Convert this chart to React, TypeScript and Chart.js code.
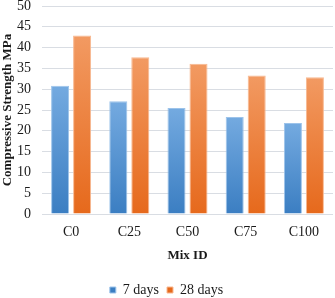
import React, { useEffect, useRef } from "react";
import { Chart, registerables } from "chart.js";

Chart.register(...registerables);

const categories = ["C0", "C25", "C50", "C75", "C100"];
const days7 = [30.8, 27.1, 25.5, 23.3, 21.9];
const days28 = [42.9, 37.7, 36.1, 33.3, 32.9];
const seriesNames = ["7 days", "28 days"];
const yTitle = "Compressive Strength MPa";
const xTitle = "Mix ID";

const FONT = "'Liberation Serif', 'Times New Roman', serif";
const TEXT = "#1a1a1a";

function barGradient(ctx: any, top: string, bottom: string) {
  const chart = ctx.chart;
  const ys = chart.scales && chart.scales.y;
  if (!chart.chartArea || !ys || ctx.raw == null) return bottom;
  const y0 = ys.getPixelForValue(ctx.raw);
  const y1 = ys.getPixelForValue(0);
  if (!isFinite(y0) || !isFinite(y1) || y0 === y1) return bottom;
  const g = chart.ctx.createLinearGradient(0, y0, 0, y1);
  g.addColorStop(0, top);
  g.addColorStop(1, bottom);
  return g;
}

export default function App() {
  const ref = useRef<HTMLCanvasElement | null>(null);
  useEffect(() => {
    document.body.style.margin = "0";
    const chart = new Chart(ref.current!, {
      type: "bar",
      data: {
        labels: categories,
        datasets: [
          {
            label: seriesNames[0],
            data: days7,
            backgroundColor: (c: any) => barGradient(c, "#74aae0", "#3b7ec2"),
            borderColor: "#9cc3ea",
            borderWidth: 1,
            categoryPercentage: 0.756,
            barPercentage: 0.82,
          },
          {
            label: seriesNames[1],
            data: days28,
            backgroundColor: (c: any) => barGradient(c, "#f29a62", "#e6691c"),
            borderColor: "#f8b890",
            borderWidth: 1,
            categoryPercentage: 0.756,
            barPercentage: 0.82,
          },
        ],
      },
      options: {
        animation: false,
        responsive: false,
        maintainAspectRatio: false,
        layout: { padding: { left: 0, right: 2, top: 0, bottom: -9 } },
        plugins: {
          tooltip: { enabled: false },
          legend: {
            position: "bottom",
            labels: {
              boxWidth: 6,
              boxHeight: 6,
              color: TEXT,
              font: { family: FONT, size: 14 },
              padding: 8,
            },
          },
        },
        scales: {
          x: {
            afterFit: (s: any) => {
              s.height = 61;
            },
            grid: { display: false, drawTicks: false },
            border: { display: false },
            ticks: { color: TEXT, font: { family: FONT, size: 14 }, padding: 10 },
            title: {
              display: true,
              text: xTitle,
              color: TEXT,
              font: { family: FONT, size: 13, weight: "bold" },
              padding: { top: 4, bottom: 12 },
            },
          },
          y: {
            min: 0,
            max: 50,
            afterFit: (s: any) => {
              s.width = 42;
              s.paddingTop = 6;
            },
            ticks: {
              stepSize: 5,
              autoSkip: false,
              color: TEXT,
              font: { family: FONT, size: 14 },
              padding: 11,
            },
            grid: { color: "#d9dde3", drawTicks: false },
            border: { display: false },
            title: {
              display: true,
              text: yTitle,
              color: TEXT,
              font: { family: FONT, size: 13, weight: "bold" },
              padding: { top: 0, bottom: 0 },
            },
          },
        },
      },
    });
    return () => chart.destroy();
  }, []);
  return (
    <div style={{ width: 335, height: 298, background: "#fff" }}>
      <canvas ref={ref} width={335} height={298} style={{ display: "block" }} />
    </div>
  );
}
